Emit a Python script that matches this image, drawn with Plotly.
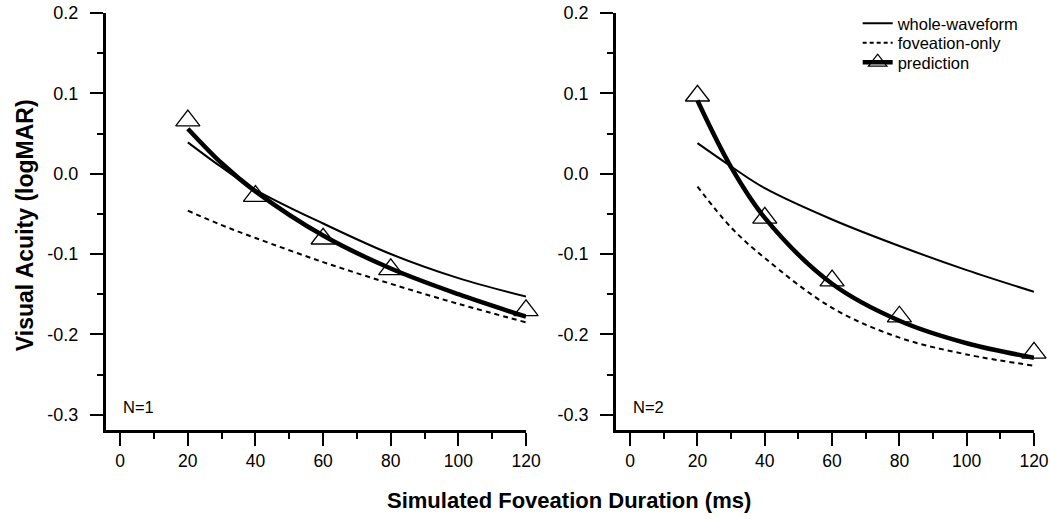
import plotly.graph_objects as go

''' datos '''
# duracion simulada de la foveacion (ms)
dur = [20, 30, 40, 60, 80, 100, 120]
dur_pts = [20, 40, 60, 80, 120]

# panel N=1
n1_whole = [0.039, 0.008, -0.020, -0.062, -0.100, -0.130, -0.153]
n1_fov = [-0.046, -0.064, -0.080, -0.110, -0.137, -0.162, -0.185]
n1_pred = [0.056, 0.013, -0.022, -0.077, -0.118, -0.150, -0.178]
n1_pts = [0.066, -0.028, -0.081, -0.119, -0.170]

# panel N=2
n2_whole = [0.038, 0.009, -0.018, -0.057, -0.090, -0.120, -0.147]
n2_fov = [-0.016, -0.067, -0.105, -0.167, -0.204, -0.225, -0.239]
n2_pred = [0.091, 0.008, -0.055, -0.137, -0.183, -0.211, -0.229]
n2_pts = [0.097, -0.055, -0.133, -0.178, -0.223]

x_ticks = [0, 20, 40, 60, 80, 100, 120]
y_ticks = [0.2, 0.1, 0.0, -0.1, -0.2, -0.3]
y_labels = ['0.2', '0.1', '0.0', '-0.1', '-0.2', '-0.3']
panel_names = ['N=1', 'N=2']
legend_names = ['whole-waveform', 'foveation-only', 'prediction']

FONT = 'Liberation Sans, Arial, sans-serif'

fig = go.Figure()

paneles = [
    ('x', 'y', n1_whole, n1_fov, n1_pred, n1_pts),
    ('x2', 'y2', n2_whole, n2_fov, n2_pred, n2_pts),
]
for xa, ya, whole, fov, pred, pts in paneles:
    fig.add_trace(go.Scatter(
        x=dur, y=whole, xaxis=xa, yaxis=ya, mode='lines',
        line=dict(color='black', width=2, shape='spline'),
        showlegend=False))
    fig.add_trace(go.Scatter(
        x=dur, y=fov, xaxis=xa, yaxis=ya, mode='lines',
        line=dict(color='black', width=2, dash='5px,4px', shape='spline'),
        showlegend=False))
    fig.add_trace(go.Scatter(
        x=dur, y=pred, xaxis=xa, yaxis=ya, mode='lines',
        line=dict(color='black', width=4.5, shape='spline'),
        showlegend=False))
    fig.add_trace(go.Scatter(
        x=dur_pts, y=pts, xaxis=xa, yaxis=ya, mode='markers', cliponaxis=False,
        marker=dict(symbol='triangle-up-open', size=21, color='black',
                    line=dict(width=1.3, color='black')),
        showlegend=False))

# entradas de la leyenda (una leyenda por entrada para controlar el espaciado)
fig.add_trace(go.Scatter(x=[None], y=[None], mode='lines', name=legend_names[0],
                         legend='legend', line=dict(color='black', width=2)))
fig.add_trace(go.Scatter(x=[None], y=[None], mode='lines', name=legend_names[1],
                         legend='legend2', line=dict(color='black', width=2, dash='4px,3px')))
fig.add_trace(go.Scatter(x=[None], y=[None], mode='lines+markers', name=legend_names[2],
                         legend='legend3', line=dict(color='black', width=4.5),
                         marker=dict(symbol='triangle-up-open', size=21, color='black',
                                     line=dict(width=1.3, color='black'))))

eje_x = dict(
    range=[-4.2, 120], tickmode='array', tickvals=x_ticks,
    ticks='outside', ticklen=13, tickwidth=2, tickcolor='black',
    showline=True, linewidth=3, linecolor='black',
    showgrid=False, zeroline=False, ticklabelstandoff=0,
    tickfont=dict(family=FONT, size=17.5, color='black'),
    minor=dict(ticks='outside', dtick=10, tick0=0, ticklen=6, tickwidth=2,
               tickcolor='black', showgrid=False),
)
eje_y = dict(
    range=[-0.319, 0.2], tickmode='array', tickvals=y_ticks, ticktext=y_labels,
    ticks='outside', ticklen=13, tickwidth=2, tickcolor='black',
    showline=True, linewidth=3, linecolor='black',
    showgrid=False, zeroline=False, ticklabelstandoff=8,
    tickfont=dict(family=FONT, size=18, color='black'),
    minor=dict(ticks='outside', dtick=0.05, tick0=0, ticklen=6, tickwidth=2,
               tickcolor='black', showgrid=False),
)

leg = dict(x=0.81, xanchor='left', yanchor='top', bgcolor='rgba(0,0,0,0)',
           font=dict(family=FONT, size=16.5), itemwidth=30)

fig.update_layout(
    width=1050, height=519,
    margin=dict(l=106, r=16, t=13, b=89, autoexpand=False),
    paper_bgcolor='white', plot_bgcolor='white',
    font=dict(family=FONT, color='black'),
    xaxis=dict(eje_x, domain=[0, 0.4526], anchor='y'),
    yaxis=dict(eje_y, domain=[0, 1], anchor='x'),
    xaxis2=dict(eje_x, domain=[0.5496, 1], anchor='y2'),
    yaxis2=dict(eje_y, domain=[0, 1], anchor='x2'),
    legend=dict(leg, y=1.0168),
    legend2=dict(leg, y=0.970),
    legend3=dict(leg, y=0.9233),
)

for i, nombre in enumerate(panel_names):
    sfx = '' if i == 0 else str(i + 1)
    fig.add_annotation(text=nombre, xref='x' + sfx + ' domain', yref='y' + sfx + ' domain',
                       x=0.036, y=0.055, xanchor='left', yanchor='middle', showarrow=False,
                       font=dict(family=FONT, size=16.5, color='black'))

fig.add_annotation(text='<b>Visual Acuity (logMAR)</b>', xref='paper', yref='paper',
                   x=-0.088, y=0.492, textangle=-90, showarrow=False,
                   xanchor='center', yanchor='middle',
                   font=dict(family=FONT, size=23, color='black'))
fig.add_annotation(text='<b>Simulated Foveation Duration (ms)</b>', xref='paper', yref='paper',
                   x=0.499, y=-0.168, showarrow=False, xanchor='center', yanchor='middle',
                   font=dict(family=FONT, size=22, color='black'))

# sin margen en el body para que la figura ocupe toda la ventana
fig.write_html('out.html', config={'displayModeBar': False},
               post_script="document.body.style.margin='0px';")
